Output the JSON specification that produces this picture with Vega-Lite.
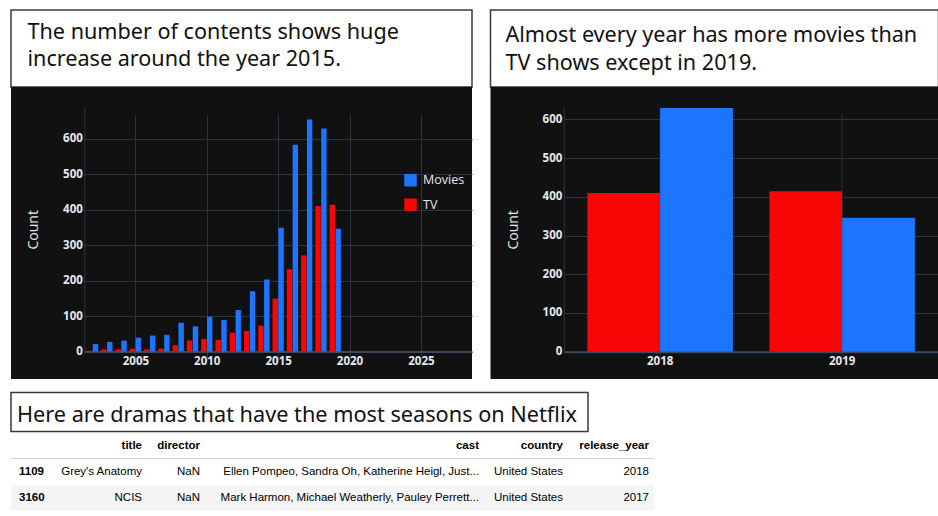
{
  "$schema": "https://vega.github.io/schema/vega-lite/v6.json",
  "background": "white",
  "padding": {"left": 10, "top": 9, "right": 0, "bottom": 0},
  "spacing": 12.5,
  "config": {"view": {"stroke": null}, "font": "Open Sans"},
  "resolve": {"scale": {"color": "independent"}, "legend": {"color": "independent"}},
  "datasets": {
    "counts": [
      {"year": 2002, "type": "Movies", "count": 21}, {"year": 2003, "type": "Movies", "count": 27},
      {"year": 2004, "type": "Movies", "count": 31}, {"year": 2005, "type": "Movies", "count": 39},
      {"year": 2006, "type": "Movies", "count": 45}, {"year": 2007, "type": "Movies", "count": 47},
      {"year": 2008, "type": "Movies", "count": 81}, {"year": 2009, "type": "Movies", "count": 71},
      {"year": 2010, "type": "Movies", "count": 98}, {"year": 2011, "type": "Movies", "count": 89},
      {"year": 2012, "type": "Movies", "count": 117}, {"year": 2013, "type": "Movies", "count": 170},
      {"year": 2014, "type": "Movies", "count": 203}, {"year": 2015, "type": "Movies", "count": 349},
      {"year": 2016, "type": "Movies", "count": 583}, {"year": 2017, "type": "Movies", "count": 654},
      {"year": 2018, "type": "Movies", "count": 629}, {"year": 2019, "type": "Movies", "count": 346},
      {"year": 2002, "type": "TV", "count": 2}, {"year": 2003, "type": "TV", "count": 6},
      {"year": 2004, "type": "TV", "count": 6}, {"year": 2005, "type": "TV", "count": 8},
      {"year": 2006, "type": "TV", "count": 6}, {"year": 2007, "type": "TV", "count": 8},
      {"year": 2008, "type": "TV", "count": 18}, {"year": 2009, "type": "TV", "count": 31},
      {"year": 2010, "type": "TV", "count": 35}, {"year": 2011, "type": "TV", "count": 33},
      {"year": 2012, "type": "TV", "count": 53}, {"year": 2013, "type": "TV", "count": 58},
      {"year": 2014, "type": "TV", "count": 73}, {"year": 2015, "type": "TV", "count": 149},
      {"year": 2016, "type": "TV", "count": 232}, {"year": 2017, "type": "TV", "count": 271},
      {"year": 2018, "type": "TV", "count": 410}, {"year": 2019, "type": "TV", "count": 414}
    ],
    "table": [
      {"row": "h", "col": "idx", "text": ""},
      {"row": "h", "col": "title", "text": "title"},
      {"row": "h", "col": "director", "text": "director"},
      {"row": "h", "col": "cast", "text": "cast"},
      {"row": "h", "col": "country", "text": "country"},
      {"row": "h", "col": "release_year", "text": "release_year"},
      {"row": "1109", "col": "idx", "text": "1109"},
      {"row": "1109", "col": "title", "text": "Grey's Anatomy"},
      {"row": "1109", "col": "director", "text": "NaN"},
      {"row": "1109", "col": "cast", "text": "Ellen Pompeo, Sandra Oh, Katherine Heigl, Just..."},
      {"row": "1109", "col": "country", "text": "United States"},
      {"row": "1109", "col": "release_year", "text": "2018"},
      {"row": "3160", "col": "idx", "text": "3160"},
      {"row": "3160", "col": "title", "text": "NCIS"},
      {"row": "3160", "col": "director", "text": "NaN"},
      {"row": "3160", "col": "cast", "text": "Mark Harmon, Michael Weatherly, Pauley Perrett..."},
      {"row": "3160", "col": "country", "text": "United States"},
      {"row": "3160", "col": "release_year", "text": "2017"}
    ]
  },
  "vconcat": [
    {
      "hconcat": [
        {
          "vconcat": [
            {
              "width": 461, "height": 77,
              "view": {"fill": "white", "stroke": "#3a3a3a", "strokeWidth": 1.5},
              "data": {"values": [{"line": 1, "text": "The number of contents shows huge"}, {"line": 2, "text": "increase around the year 2015."}]},
              "mark": {"type": "text", "align": "left", "baseline": "alphabetic", "dx": 16.5, "font": "Noto Sans", "fontSize": 21.6, "color": "#111111"},
              "encoding": {
                "x": {"datum": 0, "type": "quantitative", "scale": {"domain": [0, 1]}, "axis": null},
                "y": {"field": "line", "type": "ordinal", "scale": {"type": "point", "padding": 0.926, "align": 0.58}, "axis": null},
                "text": {"field": "text"}
              }
            },
            {
              "width": 461, "height": 292,
              "view": {"fill": "#111111", "stroke": null},
              "data": {"name": "counts"},
              "encoding": {
                "x": {"field": "year", "type": "quantitative",
                  "scale": {"domain": [2001.77, 2028.23], "range": [73.3, 461], "nice": false, "zero": false},
                  "axis": {"values": [2005, 2010, 2015, 2020, 2025], "format": "d", "title": null, "offset": -27.5, "ticks": false,
                    "domainColor": "#3a4a60", "domainWidth": 2, "grid": true, "gridColor": "#283442", "labelPadding": 4, "labelFlush": false,
                    "labelColor": "#e6e9ee", "labelFont": "Open Sans", "labelFontSize": 11.5, "labelFontWeight": "bold"}},
                "y": {"field": "count", "type": "quantitative", "stack": null,
                  "scale": {"domain": [0, 689.4], "range": [264.5, 20], "nice": false},
                  "axis": {"values": [0, 100, 200, 300, 400, 500, 600], "title": "Count", "offset": -73.3, "ticks": false,
                    "domainColor": "#283442", "grid": true, "gridColor": "#283442", "labelPadding": 2, "titlePadding": 22,
                    "titleFont": "Open Sans", "titleFontSize": 14, "titleFontWeight": "normal", "titleColor": "#e6e9ee",
                    "labelColor": "#e6e9ee", "labelFont": "Open Sans", "labelFontSize": 11.5, "labelFontWeight": "bold"}},
                "color": {"field": "type", "type": "nominal",
                  "scale": {"domain": ["Movies", "TV"], "range": ["#1c75ff", "#f80606"]},
                  "legend": {"title": null, "orient": "none", "legendX": 393, "legendY": 86.7, "symbolType": "square", "symbolSize": 156,
                    "symbolStrokeWidth": 0, "labelFont": "Open Sans", "labelFontSize": 12.5, "labelColor": "#e6e9ee", "rowPadding": 11.5, "labelOffset": 6}}
              },
              "layer": [
                {"transform": [{"filter": "datum.type === 'TV'"}], "mark": {"type": "bar", "orient": "vertical", "width": 5.4, "xOffset": -2.93}},
                {"transform": [{"filter": "datum.type === 'Movies'"}], "mark": {"type": "bar", "orient": "vertical", "width": 5.4, "xOffset": 2.93}}
              ]
            }
          ],
          "spacing": 0,
          "bounds": "flush",
          "resolve": {"scale": {"color": "independent"}, "legend": {"color": "independent"}}
        },
        {
          "vconcat": [
            {
              "width": 448, "height": 77,
              "view": {"fill": "white", "stroke": "#3a3a3a", "strokeWidth": 1.5},
              "data": {"values": [{"line": 1, "text": "Almost every year has more movies than"}, {"line": 2, "text": "TV shows except in 2019."}]},
              "mark": {"type": "text", "align": "left", "baseline": "alphabetic", "dx": 15, "font": "Noto Sans", "fontSize": 21.6, "color": "#111111"},
              "encoding": {
                "x": {"datum": 0, "type": "quantitative", "scale": {"domain": [0, 1]}, "axis": null},
                "y": {"field": "line", "type": "ordinal", "scale": {"type": "point", "padding": 0.875, "align": 0.653}, "axis": null},
                "text": {"field": "text"}
              }
            },
            {
              "width": 448, "height": 292,
              "view": {"fill": "#111111", "stroke": null},
              "data": {"values": [
                {"year": "2018", "type": "TV", "count": 410}, {"year": "2018", "type": "Movies", "count": 629},
                {"year": "2019", "type": "TV", "count": 414}, {"year": "2019", "type": "Movies", "count": 346}
              ]},
              "encoding": {
                "x": {"field": "year", "type": "nominal",
                  "scale": {"range": [73.3, 448], "paddingInner": 0.2, "paddingOuter": 0.1294},
                  "axis": {"title": null, "offset": -27.3, "ticks": false, "labelAngle": 0, "bandPosition": 0.5,
                    "domainColor": "#3a4a60", "domainWidth": 2, "grid": true, "gridColor": "#283442", "labelPadding": 4,
                    "labelColor": "#e6e9ee", "labelFont": "Open Sans", "labelFontSize": 11.5, "labelFontWeight": "bold"}},
                "xOffset": {"field": "type", "type": "nominal", "scale": {"domain": ["TV", "Movies"], "paddingInner": 0, "paddingOuter": 0}},
                "y": {"field": "count", "type": "quantitative", "stack": null,
                  "scale": {"domain": [0, 631.8], "range": [264.7, 20], "nice": false},
                  "axis": {"values": [0, 100, 200, 300, 400, 500, 600], "title": "Count", "offset": -73.3, "ticks": false,
                    "domainColor": "#283442", "grid": true, "gridColor": "#283442", "labelPadding": 2, "titlePadding": 22,
                    "titleFont": "Open Sans", "titleFontSize": 14, "titleFontWeight": "normal", "titleColor": "#e6e9ee",
                    "labelColor": "#e6e9ee", "labelFont": "Open Sans", "labelFontSize": 11.5, "labelFontWeight": "bold"}}
              },
              "layer": [
                {"transform": [{"filter": "datum.type === 'TV'"}], "mark": {"type": "bar", "color": "#f80606"}},
                {"transform": [{"filter": "datum.type === 'Movies'"}], "mark": {"type": "bar", "color": "#1c75ff"}}
              ]
            }
          ],
          "spacing": 0,
          "bounds": "flush"
        }
      ],
      "spacing": 16.5,
      "resolve": {"scale": {"color": "independent"}, "legend": {"color": "independent"}}
    },
    {
      "vconcat": [
        {
          "width": 577, "height": 39,
          "view": {"fill": "white", "stroke": "#3a3a3a", "strokeWidth": 1.5},
          "data": {"values": [{"line": 1, "text": "Here are dramas that have the most seasons on Netflix"}]},
          "mark": {"type": "text", "align": "left", "baseline": "alphabetic", "dx": 6, "font": "Noto Sans", "fontSize": 21.7, "color": "#111111"},
          "encoding": {
            "x": {"datum": 0, "type": "quantitative", "scale": {"domain": [0, 1]}, "axis": null},
            "y": {"field": "line", "type": "ordinal", "scale": {"type": "point", "padding": 0.5, "align": 0.744}, "axis": null},
            "text": {"field": "text"}
          }
        },
        {
          "hconcat": [
            {
              "width": 60, "height": 78,
              "data": {"name": "table"},
              "transform": [{"filter": "datum.col === 'idx'"}],
              "encoding": {"y": {"field": "row", "type": "ordinal", "scale": {"type": "band", "domain": ["h", "1109", "3160"], "paddingInner": 0, "paddingOuter": 0}, "axis": null}},
              "layer": [
                {"transform": [{"filter": "datum.row === '3160'"}], "mark": {"type": "rect", "color": "#f5f5f5"}},
                {"transform": [{"filter": "datum.row === 'h'"}], "mark": {"type": "rule", "color": "#d0d0d0"}, "encoding": {"y": {"field": "row", "type": "ordinal", "bandPosition": 1}}},
                {"transform": [{"filter": "datum.row !== 'h'"}], "mark": {"type": "text", "align": "left", "dx": 8, "font": "Liberation Sans", "fontSize": 11.5, "fontWeight": "bold", "color": "#000000"},
                  "encoding": {"x": {"datum": 0, "type": "quantitative", "scale": {"domain": [0, 1]}, "axis": null}, "text": {"field": "text"}}}
              ]
            },
            {
              "width": 76, "height": 78,
              "data": {"name": "table"},
              "transform": [{"filter": "datum.col === 'title'"}],
              "encoding": {"y": {"field": "row", "type": "ordinal", "scale": {"type": "band", "domain": ["h", "1109", "3160"], "paddingInner": 0, "paddingOuter": 0}, "axis": null}},
              "layer": [
                {"transform": [{"filter": "datum.row === '3160'"}], "mark": {"type": "rect", "color": "#f5f5f5"}},
                {"transform": [{"filter": "datum.row === 'h'"}], "mark": {"type": "rule", "color": "#d0d0d0"}, "encoding": {"y": {"field": "row", "type": "ordinal", "bandPosition": 1}}},
                {"transform": [{"filter": "datum.row === 'h'"}], "mark": {"type": "text", "align": "right", "dx": -5, "font": "Liberation Sans", "fontSize": 11.5, "fontWeight": "bold", "color": "#000000"},
                  "encoding": {"x": {"datum": 1, "type": "quantitative", "scale": {"domain": [0, 1]}, "axis": null}, "text": {"field": "text"}}},
                {"transform": [{"filter": "datum.row !== 'h'"}], "mark": {"type": "text", "align": "right", "dx": -5, "font": "Liberation Sans", "fontSize": 11.5, "color": "#000000"},
                  "encoding": {"x": {"datum": 1, "type": "quantitative", "scale": {"domain": [0, 1]}, "axis": null}, "text": {"field": "text"}}}
              ]
            },
            {
              "width": 58, "height": 78,
              "data": {"name": "table"},
              "transform": [{"filter": "datum.col === 'director'"}],
              "encoding": {"y": {"field": "row", "type": "ordinal", "scale": {"type": "band", "domain": ["h", "1109", "3160"], "paddingInner": 0, "paddingOuter": 0}, "axis": null}},
              "layer": [
                {"transform": [{"filter": "datum.row === '3160'"}], "mark": {"type": "rect", "color": "#f5f5f5"}},
                {"transform": [{"filter": "datum.row === 'h'"}], "mark": {"type": "rule", "color": "#d0d0d0"}, "encoding": {"y": {"field": "row", "type": "ordinal", "bandPosition": 1}}},
                {"transform": [{"filter": "datum.row === 'h'"}], "mark": {"type": "text", "align": "right", "dx": -5, "font": "Liberation Sans", "fontSize": 11.5, "fontWeight": "bold", "color": "#000000"},
                  "encoding": {"x": {"datum": 1, "type": "quantitative", "scale": {"domain": [0, 1]}, "axis": null}, "text": {"field": "text"}}},
                {"transform": [{"filter": "datum.row !== 'h'"}], "mark": {"type": "text", "align": "right", "dx": -5, "font": "Liberation Sans", "fontSize": 11.5, "color": "#000000"},
                  "encoding": {"x": {"datum": 1, "type": "quantitative", "scale": {"domain": [0, 1]}, "axis": null}, "text": {"field": "text"}}}
              ]
            },
            {
              "width": 279, "height": 78,
              "data": {"name": "table"},
              "transform": [{"filter": "datum.col === 'cast'"}],
              "encoding": {"y": {"field": "row", "type": "ordinal", "scale": {"type": "band", "domain": ["h", "1109", "3160"], "paddingInner": 0, "paddingOuter": 0}, "axis": null}},
              "layer": [
                {"transform": [{"filter": "datum.row === '3160'"}], "mark": {"type": "rect", "color": "#f5f5f5"}},
                {"transform": [{"filter": "datum.row === 'h'"}], "mark": {"type": "rule", "color": "#d0d0d0"}, "encoding": {"y": {"field": "row", "type": "ordinal", "bandPosition": 1}}},
                {"transform": [{"filter": "datum.row === 'h'"}], "mark": {"type": "text", "align": "right", "dx": -5, "font": "Liberation Sans", "fontSize": 11.5, "fontWeight": "bold", "color": "#000000"},
                  "encoding": {"x": {"datum": 1, "type": "quantitative", "scale": {"domain": [0, 1]}, "axis": null}, "text": {"field": "text"}}},
                {"transform": [{"filter": "datum.row !== 'h'"}], "mark": {"type": "text", "align": "right", "dx": -5, "font": "Liberation Sans", "fontSize": 11.5, "color": "#000000"},
                  "encoding": {"x": {"datum": 1, "type": "quantitative", "scale": {"domain": [0, 1]}, "axis": null}, "text": {"field": "text"}}}
              ]
            },
            {
              "width": 84, "height": 78,
              "data": {"name": "table"},
              "transform": [{"filter": "datum.col === 'country'"}],
              "encoding": {"y": {"field": "row", "type": "ordinal", "scale": {"type": "band", "domain": ["h", "1109", "3160"], "paddingInner": 0, "paddingOuter": 0}, "axis": null}},
              "layer": [
                {"transform": [{"filter": "datum.row === '3160'"}], "mark": {"type": "rect", "color": "#f5f5f5"}},
                {"transform": [{"filter": "datum.row === 'h'"}], "mark": {"type": "rule", "color": "#d0d0d0"}, "encoding": {"y": {"field": "row", "type": "ordinal", "bandPosition": 1}}},
                {"transform": [{"filter": "datum.row === 'h'"}], "mark": {"type": "text", "align": "right", "dx": -5, "font": "Liberation Sans", "fontSize": 11.5, "fontWeight": "bold", "color": "#000000"},
                  "encoding": {"x": {"datum": 1, "type": "quantitative", "scale": {"domain": [0, 1]}, "axis": null}, "text": {"field": "text"}}},
                {"transform": [{"filter": "datum.row !== 'h'"}], "mark": {"type": "text", "align": "right", "dx": -5, "font": "Liberation Sans", "fontSize": 11.5, "color": "#000000"},
                  "encoding": {"x": {"datum": 1, "type": "quantitative", "scale": {"domain": [0, 1]}, "axis": null}, "text": {"field": "text"}}}
              ]
            },
            {
              "width": 86, "height": 78,
              "data": {"name": "table"},
              "transform": [{"filter": "datum.col === 'release_year'"}],
              "encoding": {"y": {"field": "row", "type": "ordinal", "scale": {"type": "band", "domain": ["h", "1109", "3160"], "paddingInner": 0, "paddingOuter": 0}, "axis": null}},
              "layer": [
                {"transform": [{"filter": "datum.row === '3160'"}], "mark": {"type": "rect", "color": "#f5f5f5"}},
                {"transform": [{"filter": "datum.row === 'h'"}], "mark": {"type": "rule", "color": "#d0d0d0"}, "encoding": {"y": {"field": "row", "type": "ordinal", "bandPosition": 1}}},
                {"transform": [{"filter": "datum.row === 'h'"}], "mark": {"type": "text", "align": "right", "dx": -5, "font": "Liberation Sans", "fontSize": 11.5, "fontWeight": "bold", "color": "#000000"},
                  "encoding": {"x": {"datum": 1, "type": "quantitative", "scale": {"domain": [0, 1]}, "axis": null}, "text": {"field": "text"}}},
                {"transform": [{"filter": "datum.row !== 'h'"}], "mark": {"type": "text", "align": "right", "dx": -5, "font": "Liberation Sans", "fontSize": 11.5, "color": "#000000"},
                  "encoding": {"x": {"datum": 1, "type": "quantitative", "scale": {"domain": [0, 1]}, "axis": null}, "text": {"field": "text"}}}
              ]
            }
          ],
          "spacing": 0,
          "bounds": "flush"
        }
      ],
      "spacing": 0
    }
  ]
}
